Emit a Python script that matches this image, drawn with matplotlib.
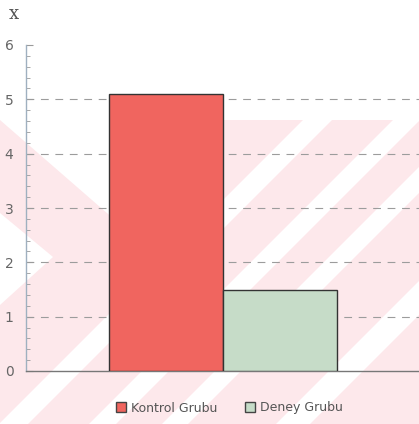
import matplotlib
matplotlib.use("Agg")
import matplotlib.pyplot as plt
from matplotlib.patches import Polygon, Patch
from matplotlib.ticker import MultipleLocator
import numpy as np

# Group means
groups = ["Kontrol Grubu", "Deney Grubu"]
means = [5.1, 1.5]
y_ticks = [0, 1, 2, 3, 4, 5, 6]
bar_colors = ["#f0655f", "#c6dcc8"]

W, H = 419, 424
fig = plt.figure(figsize=(W / 100, H / 100), dpi=100)
fig.patch.set_facecolor("white")


def px(points):
    """Pixel coordinates (origin top-left) -> figure fraction."""
    return [(x / W, 1 - y / H) for x, y in points]


pink = "#fde8eb"
# background logo: pink field with white cut-outs and diagonal stripes
fig.add_artist(Polygon(px([(0, 120), (W, 120), (W, H), (0, H)]),
                       closed=True, facecolor=pink, edgecolor="none", zorder=-3))
white_shapes = [
    [(0, 120), (223, 120), (223, 314)],
    [(0, 213), (53, 257), (0, 305)],
]
for lo, hi in [(423, 452), (513, 540), (586, 612), (700, 734)]:
    white_shapes.append([(lo - 120, 120), (hi - 120, 120), (hi - H, H), (lo - H, H)])
for shp in white_shapes:
    fig.add_artist(Polygon(px(shp), closed=True, facecolor="white",
                           edgecolor="none", zorder=-2))

ax = fig.add_axes([26 / W, 1 - 371 / H, (W - 26) / W, (371 - 45) / H])
ax.set_zorder(2)
ax.patch.set_visible(False)

x = np.arange(len(groups)) + 0.5
ax.bar(x, means, width=1.0, color=bar_colors, edgecolor="#333333",
       linewidth=1.0, zorder=3)

ax.set_xlim(-0.728, 2.72)
ax.set_ylim(0, 6)
ax.set_yticks(y_ticks)
ax.set_yticklabels([str(t) for t in y_ticks])
ax.yaxis.set_minor_locator(MultipleLocator(0.2))
ax.set_xticks([])

for v in y_ticks[1:-1]:
    ax.axhline(v, color="#9c9c9c", linewidth=0.8, dashes=(7, 6), zorder=1)

for side in ["top", "right"]:
    ax.spines[side].set_visible(False)
ax.spines["left"].set_color("#9fb0c0")
ax.spines["left"].set_linewidth(1.0)
ax.spines["bottom"].set_color("#777777")
ax.spines["bottom"].set_linewidth(1.0)

ax.tick_params(axis="y", which="major", direction="in", length=5,
               color="#9a9a9a", labelsize=10, labelcolor="#666666", pad=9)
ax.tick_params(axis="y", which="minor", direction="in", length=3,
               color="#9a9a9a")

fig.text(14 / W, 1 - 14 / H, "x", family="DejaVu Serif", fontsize=13,
         color="#555555", ha="center", va="center")

handles = [Patch(facecolor=c, edgecolor="#444444", linewidth=1.0)
           for c in bar_colors]
fig.legend(handles, groups, loc="center", bbox_to_anchor=(229 / W, 1 - 408 / H),
           ncol=2, frameon=False, handlelength=0.85, handleheight=0.85,
           handletextpad=0.35, columnspacing=2.2, borderaxespad=0,
           prop={"size": 9}, labelcolor="#555555")

fig.savefig("out.png", dpi=100)
